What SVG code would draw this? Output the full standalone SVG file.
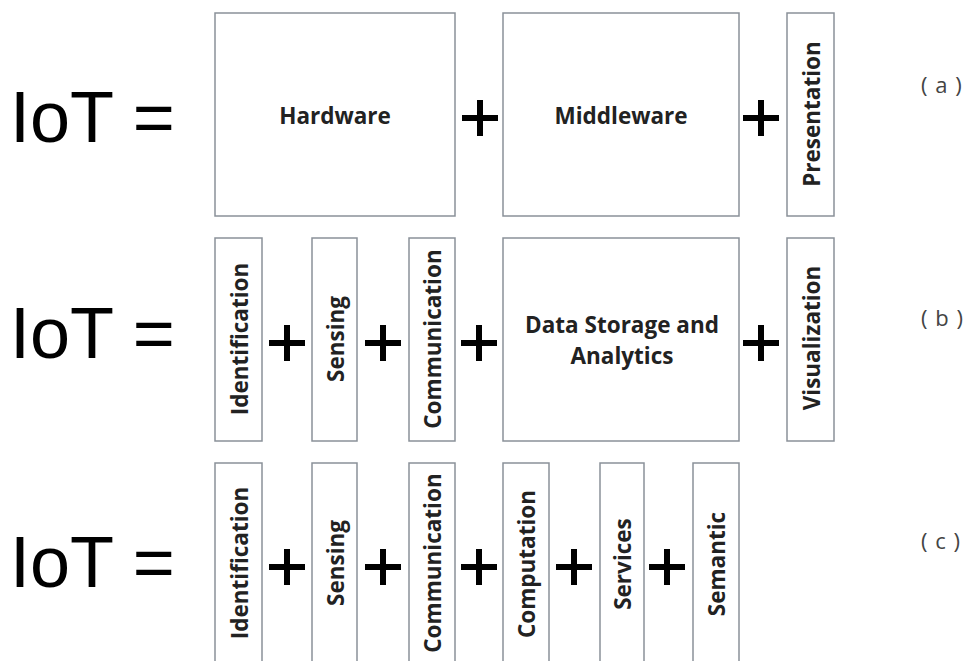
<svg xmlns="http://www.w3.org/2000/svg" width="968" height="661" viewBox="0 0 968 661">
<style>
.big{font-family:"Liberation Sans",Arial,sans-serif;font-size:72px;fill:#000}
.box{fill:#fff;stroke:#8a9199;stroke-width:1.5}
.lbl{font-family:"Open Sans","Liberation Sans",sans-serif;font-weight:bold;font-size:22.5px;fill:#222;text-anchor:middle}
.vl{font-family:"Open Sans","Liberation Sans",sans-serif;font-weight:bold;font-size:22.5px;fill:#222;text-anchor:middle;dominant-baseline:central}
.tag{font-family:"Open Sans","Liberation Sans",sans-serif;font-size:22px;fill:#444;letter-spacing:1px}
.plus{stroke:#000;stroke-width:6;fill:none}
</style>
<defs>
<path id="p" class="plus" d="M-18 0H18M0 -18V18"/>
</defs>
<rect width="968" height="661" fill="#fff"/>
<g id="row-a">
<text class="big" x="10" y="142">IoT =</text>
<g id="a-hardware"><rect class="box" x="215" y="13" width="240" height="203"/><text class="lbl" x="335" y="124">Hardware</text></g>
<g id="a-middleware"><rect class="box" x="503" y="13" width="236" height="203"/><text class="lbl" x="621" y="124">Middleware</text></g>
<g id="a-presentation"><rect class="box" x="787" y="13" width="47" height="203"/><text class="vl" transform="rotate(-90 811 114)" x="811" y="114">Presentation</text></g>
<text class="tag" x="921" y="93">( a )</text>
</g>
<g id="row-b">
<text class="big" x="10" y="358">IoT =</text>
<g id="b-identification"><rect class="box" x="215" y="238" width="47" height="203"/><text class="vl" transform="rotate(-90 239 339)" x="239" y="339">Identification</text></g>
<g id="b-sensing"><rect class="box" x="312" y="238" width="45" height="203"/><text class="vl" transform="rotate(-90 335 339)" x="335" y="339">Sensing</text></g>
<g id="b-communication"><rect class="box" x="409" y="238" width="46" height="203"/><text class="vl" transform="rotate(-90 432 339)" x="432" y="339">Communication</text></g>
<g id="b-data"><rect class="box" x="503" y="238" width="236" height="203"/><text class="lbl" x="622" y="333">Data Storage and</text><text class="lbl" x="622" y="364">Analytics</text></g>
<g id="b-visualization"><rect class="box" x="787" y="238" width="47" height="203"/><text class="vl" transform="rotate(-90 811 338)" x="811" y="338">Visualization</text></g>
<text class="tag" x="921" y="326">( b )</text>
</g>
<g id="row-c">
<text class="big" x="10" y="587">IoT =</text>
<g id="c-identification"><rect class="box" x="215" y="463" width="47" height="205"/><text class="vl" transform="rotate(-90 239 563)" x="239" y="563">Identification</text></g>
<g id="c-sensing"><rect class="box" x="312" y="463" width="45" height="205"/><text class="vl" transform="rotate(-90 335 563)" x="335" y="563">Sensing</text></g>
<g id="c-communication"><rect class="box" x="409" y="463" width="46" height="205"/><text class="vl" transform="rotate(-90 432 563)" x="432" y="563">Communication</text></g>
<g id="c-computation"><rect class="box" x="503" y="463" width="46" height="205"/><text class="vl" transform="rotate(-90 526 564)" x="526" y="564">Computation</text></g>
<g id="c-services"><rect class="box" x="600" y="463" width="44" height="205"/><text class="vl" transform="rotate(-90 622 564)" x="622" y="564">Services</text></g>
<g id="c-semantic"><rect class="box" x="693" y="463" width="46" height="205"/><text class="vl" transform="rotate(-90 716 564)" x="716" y="564">Semantic</text></g>
<text class="tag" x="921" y="549">( c )</text>
</g>
<g id="connectors">
<use href="#p" x="480" y="118"/>
<use href="#p" x="761" y="118"/>
<use href="#p" x="287" y="343"/>
<use href="#p" x="383" y="343"/>
<use href="#p" x="479" y="343"/>
<use href="#p" x="761" y="343"/>
<use href="#p" x="287" y="567"/>
<use href="#p" x="383" y="567"/>
<use href="#p" x="479" y="567"/>
<use href="#p" x="574" y="567"/>
<use href="#p" x="667" y="567"/>
</g>
</svg>
